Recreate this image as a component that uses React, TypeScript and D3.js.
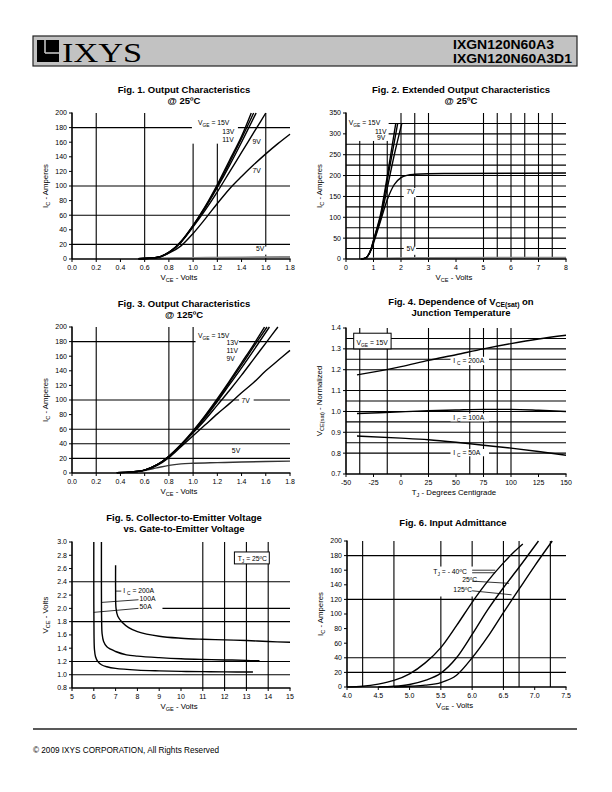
import React from 'react'
import * as d3 from 'd3'

type Pt = [number, number]
type Piece = string | { sub: string }

const FONT = "'Liberation Sans', Arial, Helvetica, sans-serif"

// ---------- Fig. 1  Output characteristics @ 25C  (V_CE volts, I_C amps)
const fig1Vge15: Pt[] = [[0.55, 0.3], [0.7, 2], [0.8, 9], [0.9, 24], [1.0, 46], [1.1, 72], [1.2, 102], [1.3, 135], [1.4, 168], [1.48, 200]]
const fig1Vge13: Pt[] = [[0.55, 0.3], [0.7, 2], [0.8, 9], [0.9, 24], [1.0, 46], [1.1, 71], [1.2, 100], [1.3, 132], [1.4, 165], [1.5, 200]]
const fig1Vge11: Pt[] = [[0.55, 0.3], [0.7, 2], [0.8, 9], [0.9, 23], [1.0, 45], [1.1, 70], [1.2, 98], [1.3, 128], [1.4, 160], [1.52, 200]]
const fig1Vge9: Pt[] = [[0.55, 0.3], [0.7, 2], [0.8, 9], [0.9, 23], [1.0, 44], [1.1, 67], [1.2, 92], [1.3, 119], [1.4, 146], [1.5, 173], [1.6, 200]]
const fig1Vge7: Pt[] = [[0.55, 0.3], [0.7, 2], [0.8, 8], [0.9, 18], [1.0, 35], [1.1, 55], [1.2, 76], [1.3, 96], [1.4, 113], [1.5, 129], [1.6, 144], [1.7, 158], [1.8, 171]]
const fig1Vge5: Pt[] = [[0.55, 0.5], [1.0, 1.5], [1.4, 2.2], [1.8, 2.8]]

// ---------- Fig. 2  Extended output characteristics @ 25C
const fig2Vge15: Pt[] = [[0.55, 0], [0.7, 2], [0.8, 8], [0.9, 22], [1.0, 45], [1.1, 68], [1.25, 105], [1.5, 198], [1.81, 325]]
const fig2Vge11: Pt[] = [[0.55, 0], [0.7, 2], [0.8, 8], [0.9, 22], [1.0, 44], [1.1, 66], [1.25, 100], [1.5, 188], [1.88, 325]]
const fig2Vge9: Pt[] = [[0.55, 0], [0.7, 2], [0.8, 8], [0.9, 21], [1.0, 42], [1.1, 62], [1.25, 95], [1.5, 170], [1.75, 248], [2.03, 325]]
const fig2Vge7: Pt[] = [[0.55, 0], [0.7, 2], [0.8, 8], [0.9, 20], [1.0, 38], [1.25, 90], [1.5, 142], [1.75, 178], [2.0, 195], [2.25, 201], [2.5, 203], [3, 204.5], [4, 205], [8, 206]]
const fig2Vge5: Pt[] = [[0.5, 0], [1, 1], [2, 2], [3, 2.5], [8, 3]]

// ---------- Fig. 3  Output characteristics @ 125C
const fig3Vge15: Pt[] = [[0.37, 0.5], [0.5, 1.5], [0.6, 4], [0.7, 11], [0.8, 23], [0.9, 39], [1.0, 58], [1.1, 79], [1.2, 102], [1.3, 126], [1.4, 151], [1.5, 176], [1.59, 200]]
const fig3Vge13: Pt[] = [[0.37, 0.5], [0.5, 1.5], [0.6, 4], [0.7, 11], [0.8, 23], [0.9, 39], [1.0, 57], [1.1, 78], [1.2, 100], [1.3, 124], [1.4, 148], [1.5, 173], [1.61, 200]]
const fig3Vge11: Pt[] = [[0.37, 0.5], [0.5, 1.5], [0.6, 4], [0.7, 11], [0.8, 23], [0.9, 38], [1.0, 56], [1.1, 76], [1.2, 98], [1.3, 121], [1.4, 144], [1.5, 168], [1.63, 200]]
const fig3Vge9: Pt[] = [[0.37, 0.5], [0.5, 1.5], [0.6, 4], [0.7, 11], [0.8, 22], [0.9, 38], [1.0, 55], [1.1, 73], [1.2, 93], [1.3, 113], [1.4, 134], [1.5, 156], [1.6, 178], [1.7, 200]]
const fig3Vge7: Pt[] = [[0.37, 0.5], [0.5, 1.5], [0.6, 4], [0.7, 10], [0.8, 21], [0.9, 36], [1.0, 51], [1.1, 66], [1.2, 81], [1.3, 95], [1.4, 110], [1.5, 124], [1.6, 140], [1.7, 154], [1.8, 168]]
const fig3Vge5: Pt[] = [[0.37, 0.5], [0.5, 1.5], [0.6, 3.5], [0.7, 7], [0.8, 10.5], [0.9, 12.5], [1.0, 13.3], [1.2, 14.2], [1.4, 15], [1.6, 15.7], [1.8, 16.3]]

// ---------- Fig. 4  V_CE(sat) vs junction temperature (normalized)
const fig4Ic200: Pt[] = [[-40, 1.175], [0, 1.215], [25, 1.245], [50, 1.272], [75, 1.3], [100, 1.325], [125, 1.347], [150, 1.365]]
const fig4Ic100: Pt[] = [[-40, 0.99], [0, 0.998], [25, 1.003], [50, 1.007], [75, 1.01], [100, 1.01], [125, 1.006], [150, 1.0]]
const fig4Ic50: Pt[] = [[-40, 0.882], [0, 0.872], [25, 0.864], [50, 0.852], [75, 0.838], [100, 0.824], [125, 0.808], [150, 0.79]]

// ---------- Fig. 5  V_CE vs V_GE @ 25C
const fig5Ic200: Pt[] = [[7.0, 2.65], [7.0, 2.3], [7.02, 2.0], [7.1, 1.88], [7.3, 1.79], [7.6, 1.71], [8, 1.65], [9, 1.58], [10, 1.55], [11, 1.535], [12, 1.525], [13, 1.515], [14, 1.5], [15, 1.49]]
const fig5Ic100: Pt[] = [[6.35, 3.0], [6.35, 2.3], [6.36, 1.8], [6.38, 1.62], [6.45, 1.5], [6.6, 1.42], [7.0, 1.35], [7.5, 1.3], [8, 1.28], [9, 1.257], [10, 1.24], [11, 1.23], [12, 1.223], [13, 1.217], [13.6, 1.21]]
const fig5Ic50: Pt[] = [[6.0, 3.0], [6.0, 2.2], [6.01, 1.6], [6.03, 1.38], [6.08, 1.27], [6.18, 1.2], [6.35, 1.15], [6.6, 1.12], [7, 1.095], [8, 1.07], [9, 1.058], [10, 1.05], [11, 1.046], [12, 1.043], [13.3, 1.04]]

// ---------- Fig. 6  Input admittance (V_GE, I_C)
const fig6TjM40: Pt[] = [[4.0, 0], [4.25, 1], [4.5, 4], [4.75, 9], [5.0, 18], [5.25, 33], [5.5, 54], [5.75, 84], [6.0, 116], [6.25, 145], [6.5, 170], [6.68, 186], [6.81, 196]]
const fig6Tj25: Pt[] = [[4.5, 0], [4.75, 1], [5.0, 3.5], [5.25, 9], [5.5, 19], [5.75, 40], [6.0, 72], [6.25, 106], [6.5, 136], [6.75, 164], [7.06, 200]]
const fig6Tj125: Pt[] = [[4.75, 0], [5.0, 1], [5.25, 2.5], [5.5, 6], [5.75, 16], [6.0, 40], [6.25, 69], [6.5, 102], [6.75, 134], [7.0, 166], [7.28, 200]]

// ---------- ticks and grids
const ticks0to18 = d3.range(10).map(i => i * 0.2)
const ticks0to200 = d3.range(11).map(i => i * 20)
const ticks0to8 = d3.range(9)
const ticks0to350 = d3.range(8).map(i => i * 50)
const ticksTemp = d3.range(9).map(i => -50 + i * 25)
const ticksNorm = d3.range(8).map(i => 0.7 + i * 0.1)
const ticksVge = d3.range(11).map(i => 5 + i)
const ticksVce = d3.range(12).map(i => 0.8 + i * 0.2)
const ticksVge6 = d3.range(8).map(i => 4 + i * 0.5)

const fig1GridX = [0.2, 0.6, 1.0, 1.2, 1.6]
const fig1GridY = [20, 60, 100, 180]
const fig2GridX = [0.5, 1, 1.5, 2, 2.5, 3, 5, 5.5, 6, 6.5, 7, 7.5]
const fig2GridY = d3.range(13).map(i => 25 + i * 25)
const fig3GridX = [0.2, 0.8, 1.0]
const fig3GridY = [20, 40, 60, 100, 180]
const fig4GridX = [-37.5, -12.5, 25, 62.5, 75, 87.5, 100]
const fig4GridY = [0.8, 0.85, 0.9, 0.95, 1.0, 1.05, 1.1, 1.2, 1.25, 1.3, 1.35]
const fig5GridX = [11, 12, 13, 14]
const fig5GridY = [1.0, 1.2, 1.8, 2.0, 2.4]
const fig6GridX = [4.25, 4.75, 5.5, 6.0, 6.5, 6.75, 7.25]
const fig6GridY = [20, 40, 120, 180]

interface Curve { pts: Pt[]; color?: string; width?: number }
interface Mask { x: [number, number]; y: [number, number]; border?: boolean }
interface Txt { x: number; y: number; t: Piece[] }
interface Spec {
  frame: [number, number, number, number]
  xDomain: [number, number]
  yDomain: [number, number]
  xTicks: number[]
  yTicks: number[]
  xFmt: (v: number) => string
  yFmt: (v: number) => string
  xGrid: number[]
  yGrid: number[]
  curves: Curve[]
  masks: Mask[]
  labels: Txt[]
  leaders: Pt[][]
  curve?: d3.CurveFactory
  title: Piece[][]
  titleX: number
  titleY: number
  xTitle: Piece[]
  yTitle: Piece[]
}

// plain hyphen for negatives, like the datasheet
const f1 = (v: number) => d3.format('.1f')(v).replace('\u2212', '-')
const f0 = (v: number) => String(Math.round(v))

function rich(pieces: Piece[], fs: number, shift = 0.3) {
  let shifted = false
  return pieces.map((p, i) => {
    if (typeof p === 'string') {
      const dy = shifted ? -fs * shift : 0
      shifted = false
      return <tspan key={i} dy={dy}>{p}</tspan>
    }
    const dy = shifted ? 0 : fs * shift
    shifted = true
    return <tspan key={i} dy={dy} fontSize={fs * 0.72}>{p.sub}</tspan>
  })
}

const specs: Spec[] = [
  {
    frame: [72, 290, 113, 259], xDomain: [0, 1.8], yDomain: [0, 200],
    xTicks: ticks0to18, yTicks: ticks0to200, xFmt: f1, yFmt: f0,
    xGrid: fig1GridX, yGrid: fig1GridY,
    curves: [
      { pts: fig1Vge5, color: '#888', width: 2 },
      { pts: fig1Vge7 }, { pts: fig1Vge9 }, { pts: fig1Vge11 }, { pts: fig1Vge13 }, { pts: fig1Vge15 },
    ],
    masks: [{ x: [0.99, 1.37], y: [158, 200] }, { x: [1.47, 1.58], y: [113, 125] }, { x: [1.5, 1.62], y: [6, 17] }],
    labels: [
      { x: 1.04, y: 183, t: ['V', { sub: 'GE' }, ' = 15V'] },
      { x: 1.24, y: 171, t: ['13V'] },
      { x: 1.24, y: 160, t: ['11V'] },
      { x: 1.49, y: 158, t: ['9V'] },
      { x: 1.49, y: 118, t: ['7V'] },
      { x: 1.52, y: 11, t: ['5V'] },
    ],
    leaders: [],
    title: [['Fig. 1. Output Characteristics'], ['@ 25ºC']], titleX: 184, titleY: 93,
    xTitle: ['V', { sub: 'CE' }, ' - Volts'], yTitle: ['I', { sub: 'C' }, ' - Amperes'],
  },
  {
    frame: [346, 566, 113, 259], xDomain: [0, 8], yDomain: [0, 350],
    xTicks: ticks0to8, yTicks: ticks0to350, xFmt: f0, yFmt: f0,
    xGrid: fig2GridX, yGrid: fig2GridY,
    curves: [
      { pts: fig2Vge5, color: '#888', width: 2 },
      { pts: fig2Vge7 }, { pts: fig2Vge9 }, { pts: fig2Vge11 }, { pts: fig2Vge15 },
    ],
    masks: [{ x: [0, 1.55], y: [283, 350] }, { x: [2.1, 2.55], y: [148, 170] }, { x: [2.1, 2.55], y: [10, 30] }],
    labels: [
      { x: 0.1, y: 321, t: ['V', { sub: 'GE' }, ' = 15V'] },
      { x: 1.05, y: 300, t: ['11V'] },
      { x: 1.13, y: 286, t: ['9V'] },
      { x: 2.2, y: 157, t: ['7V'] },
      { x: 2.2, y: 18, t: ['5V'] },
    ],
    leaders: [],
    title: [['Fig. 2. Extended Output Characteristics'], ['@ 25ºC']], titleX: 461, titleY: 93,
    xTitle: ['V', { sub: 'CE' }, ' - Volts'], yTitle: ['I', { sub: 'C' }, ' - Amperes'],
  },
  {
    frame: [72, 290, 327, 473], xDomain: [0, 1.8], yDomain: [0, 200],
    xTicks: ticks0to18, yTicks: ticks0to200, xFmt: f1, yFmt: f0,
    xGrid: fig3GridX, yGrid: fig3GridY,
    curves: [
      { pts: fig3Vge5, color: '#333' },
      { pts: fig3Vge7 }, { pts: fig3Vge9 }, { pts: fig3Vge11 }, { pts: fig3Vge13 }, { pts: fig3Vge15 },
    ],
    masks: [{ x: [1.02, 1.38], y: [148, 200] }, { x: [1.38, 1.5], y: [92, 104] }, { x: [1.3, 1.42], y: [22, 34] }],
    labels: [
      { x: 1.04, y: 185, t: ['V', { sub: 'GE' }, ' = 15V'] },
      { x: 1.275, y: 175, t: ['13V'] },
      { x: 1.275, y: 164, t: ['11V'] },
      { x: 1.275, y: 153, t: ['9V'] },
      { x: 1.4, y: 96.5, t: ['7V'] },
      { x: 1.32, y: 27, t: ['5V'] },
    ],
    leaders: [],
    title: [['Fig. 3. Output Characteristics'], ['@ 125ºC']], titleX: 184, titleY: 307,
    xTitle: ['V', { sub: 'CE' }, ' - Volts'], yTitle: ['I', { sub: 'C' }, ' - Amperes'],
  },
  {
    frame: [346, 566, 328, 474], xDomain: [-50, 150], yDomain: [0.7, 1.4],
    xTicks: ticksTemp, yTicks: ticksNorm, xFmt: f0, yFmt: f1,
    xGrid: fig4GridX, yGrid: fig4GridY,
    curves: [{ pts: fig4Ic200 }, { pts: fig4Ic100 }, { pts: fig4Ic50 }],
    masks: [
      { x: [-43, -9], y: [1.3, 1.375], border: true },
      { x: [45, 80], y: [1.222, 1.262] },
      { x: [45, 80], y: [0.952, 0.99] },
      { x: [45, 80], y: [0.785, 0.82] },
    ],
    labels: [
      { x: -40.5, y: 1.319, t: ['V', { sub: 'GE' }, ' = 15V'] },
      { x: 47.5, y: 1.23, t: ['I ', { sub: 'C' }, ' = 200A'] },
      { x: 47.5, y: 0.96, t: ['I ', { sub: 'C' }, ' = 100A'] },
      { x: 47.5, y: 0.793, t: ['I ', { sub: 'C' }, ' = 50A'] },
    ],
    leaders: [],
    title: [['Fig. 4. Dependence of V', { sub: 'CE(sat)' }, ' on'], ['Junction Temperature']], titleX: 461, titleY: 305,
    xTitle: ['T', { sub: 'J' }, ' - Degrees Centigrade'], yTitle: ['V', { sub: 'CE(sat)' }, ' - Normalized'],
  },
  {
    frame: [72, 290, 542, 688], xDomain: [5, 15], yDomain: [0.8, 3.0],
    xTicks: ticksVge, yTicks: ticksVce, xFmt: f0, yFmt: f1,
    xGrid: fig5GridX, yGrid: fig5GridY,
    curve: d3.curveCatmullRom.alpha(0.5),
    curves: [{ pts: fig5Ic200 }, { pts: fig5Ic100 }, { pts: fig5Ic50 }],
    masks: [{ x: [5.0, 9.15], y: [1.97, 2.33] }, { x: [12.45, 14.05], y: [2.67, 2.85], border: true }],
    labels: [
      { x: 12.6, y: 2.72, t: ['T', { sub: 'J' }, ' = 25ºC'] },
      { x: 7.35, y: 2.225, t: ['I ', { sub: 'C' }, ' = 200A'] },
      { x: 8.1, y: 2.105, t: ['100A'] },
      { x: 8.1, y: 1.99, t: ['50A'] },
    ],
    leaders: [
      [[7.02, 2.26], [7.26, 2.26]],
      [[6.37, 2.09], [8.05, 2.13]],
      [[6.0, 1.94], [8.05, 2.0]],
    ],
    title: [['Fig. 5. Collector-to-Emitter Voltage'], ['vs. Gate-to-Emitter Voltage']], titleX: 184, titleY: 521,
    xTitle: ['V', { sub: 'GE' }, ' - Volts'], yTitle: ['V', { sub: 'CE' }, ' - Volts'],
  },
  {
    frame: [347, 566, 541, 687], xDomain: [4, 7.5], yDomain: [0, 200],
    xTicks: ticksVge6, yTicks: ticks0to200, xFmt: f1, yFmt: f0,
    xGrid: fig6GridX, yGrid: fig6GridY,
    curves: [{ pts: fig6TjM40 }, { pts: fig6Tj25 }, { pts: fig6Tj125 }],
    masks: [{ x: [5.3, 6.02], y: [124, 165] }],
    labels: [
      { x: 5.38, y: 154.5, t: ['T', { sub: 'J' }, ' = - 40ºC'] },
      { x: 5.84, y: 143.5, t: ['25ºC'] },
      { x: 5.7, y: 130, t: ['125ºC'] },
    ],
    leaders: [
      [[6.0, 160], [6.37, 160]],
      [[6.0, 156.5], [6.37, 156.5]],
      [[6.0, 145], [6.59, 142]],
      [[6.0, 131.8], [6.63, 126.3]],
    ],
    title: [['Fig. 6. Input Admittance']], titleX: 453, titleY: 526,
    xTitle: ['V', { sub: 'GE' }, ' - Volts'], yTitle: ['I', { sub: 'C' }, ' - Amperes'],
  },
]

function Chart({ spec }: { spec: Spec }) {
  const [l, r, t, b] = spec.frame
  const x = d3.scaleLinear().domain(spec.xDomain).range([l, r])
  const y = d3.scaleLinear().domain(spec.yDomain).range([b, t])
  const line = d3.line<Pt>().x(d => x(d[0])).y(d => y(d[1])).curve(spec.curve ?? d3.curveMonotoneX)
  const straight = d3.line<Pt>().x(d => x(d[0])).y(d => y(d[1]))
  const cx = (l + r) / 2
  const cy = (t + b) / 2
  return (
    <g>
      {spec.xGrid.map(v => <line key={'gx' + v} x1={x(v)} x2={x(v)} y1={t} y2={b} stroke="#000" strokeWidth={1.1} />)}
      {spec.yGrid.map(v => <line key={'gy' + v} x1={l} x2={r} y1={y(v)} y2={y(v)} stroke="#000" strokeWidth={1.1} />)}
      {spec.masks.map((m, i) => (
        <rect key={'m' + i} x={x(m.x[0])} y={y(m.y[1])} width={x(m.x[1]) - x(m.x[0])} height={y(m.y[0]) - y(m.y[1])}
          fill="#fff" stroke={m.border ? '#000' : 'none'} strokeWidth={1} />
      ))}
      {spec.curves.map((c, i) => (
        <path key={'c' + i} d={line(c.pts) ?? ''} fill="none" stroke={c.color ?? '#000'} strokeWidth={c.width ?? 1.4} />
      ))}
      {spec.leaders.map((p, i) => <path key={'ld' + i} d={straight(p) ?? ''} fill="none" stroke="#000" strokeWidth={0.8} />)}
      <line x1={l} x2={l} y1={t - 0.5} y2={b} stroke="#000" strokeWidth={1.6} />
      <line x1={l} x2={r + 0.5} y1={b} y2={b} stroke="#000" strokeWidth={1.6} />
      {spec.yTicks.map(v => (
        <g key={'yt' + v}>
          <line x1={l - 3} x2={l} y1={y(v)} y2={y(v)} stroke="#000" strokeWidth={1} />
          <text x={l - 5} y={y(v)} dy="0.35em" textAnchor="end" fontSize={7}>{spec.yFmt(v)}</text>
        </g>
      ))}
      {spec.xTicks.map(v => (
        <g key={'xt' + v}>
          <line x1={x(v)} x2={x(v)} y1={b} y2={b + 3} stroke="#000" strokeWidth={1} />
          <text x={x(v)} y={b + 10.5} textAnchor="middle" fontSize={7}>{spec.xFmt(v)}</text>
        </g>
      ))}
      {spec.labels.map((lb, i) => (
        <text key={'lb' + i} x={x(lb.x)} y={y(lb.y)} fontSize={6.8}>{rich(lb.t, 6.8)}</text>
      ))}
      {spec.title.map((ln, i) => (
        <text key={'ti' + i} x={spec.titleX} y={spec.titleY + i * 11} textAnchor="middle" fontSize={9.5} fontWeight="bold">
          {rich(ln, 9.5, 0.18)}
        </text>
      ))}
      <text x={cx - 2} y={b + 21} textAnchor="middle" fontSize={7.8}>{rich(spec.xTitle, 7.8)}</text>
      <text transform={`translate(${l - 24},${cy}) rotate(-90)`} textAnchor="middle" fontSize={7.8}>{rich(spec.yTitle, 7.8)}</text>
    </g>
  )
}

function Header() {
  return (
    <g>
      <rect x={33} y={36} width={544} height={30} fill="#c2c2c2" stroke="#222" strokeWidth={1.2} />
      <rect x={37} y={40} width={22} height={22} fill="#000" />
      <line x1={45} x2={45} y1={40} y2={53} stroke="#c2c2c2" strokeWidth={1.6} />
      <line x1={45} x2={59} y1={53} y2={53} stroke="#c2c2c2" strokeWidth={1.6} />
      <text x={62} y={61.5} fontFamily="'Liberation Serif', 'Times New Roman', serif" fontSize={28}
        textLength={80} lengthAdjust="spacingAndGlyphs">IXYS</text>
      <text x={453} y={49} fontSize={12.6} fontWeight="bold" textLength={101} lengthAdjust="spacingAndGlyphs">IXGN120N60A3</text>
      <text x={453} y={63} fontSize={12.6} fontWeight="bold" textLength={119} lengthAdjust="spacingAndGlyphs">IXGN120N60A3D1</text>
    </g>
  )
}

function Footer() {
  return (
    <g>
      <line x1={33} x2={577} y1={729} y2={729} stroke="#222" strokeWidth={1.4} />
      <text x={33} y={753} fontSize={8.2}>© 2009 IXYS CORPORATION, All Rights Reserved</text>
    </g>
  )
}

export default function App() {
  return (
    <svg width={612} height={792} style={{ position: 'absolute', left: 0, top: 0 }} fontFamily={FONT}>
      <rect width={612} height={792} fill="#fff" />
      <Header />
      {specs.map((s, i) => <Chart key={i} spec={s} />)}
      <Footer />
    </svg>
  )
}
